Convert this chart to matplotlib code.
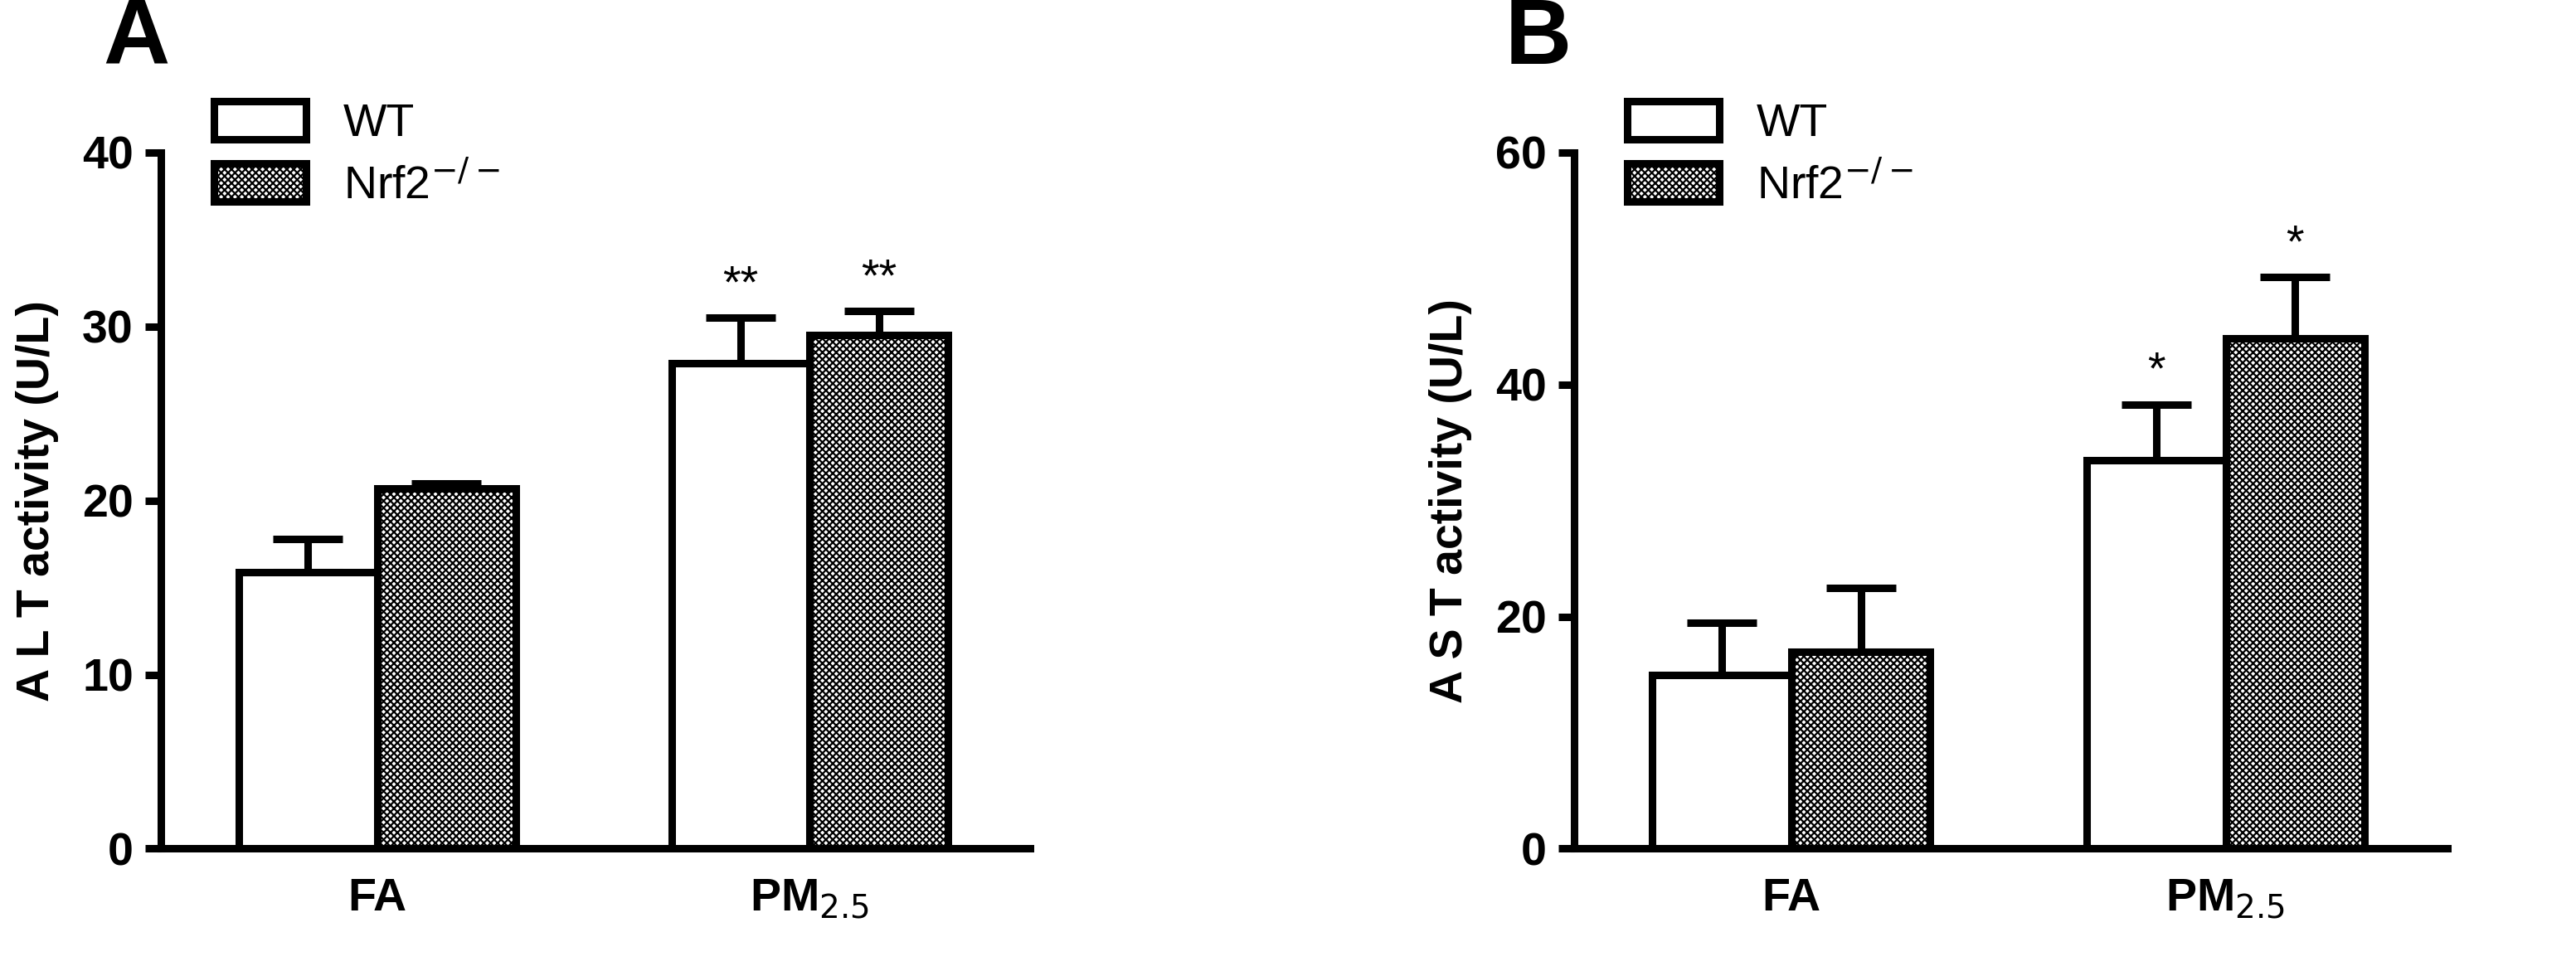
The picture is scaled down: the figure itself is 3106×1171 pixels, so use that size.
import matplotlib
matplotlib.use("Agg")
import matplotlib.pyplot as plt
from matplotlib.patches import Patch

plt.rcParams['font.family'] = ['Liberation Sans', 'DejaVu Sans']
plt.rcParams['hatch.linewidth'] = 1.6
plt.rcParams['hatch.color'] = '#333333'

groups = ['FA', 'PM$_{2.5}$']
series = ['WT', 'Nrf2$^{-/-}$']
alt_mean = {'WT': [15.9, 27.9], 'Nrf2': [20.7, 29.5]}
alt_err = {'WT': [1.9, 2.6], 'Nrf2': [0.3, 1.4]}
alt_sig = {'WT': ['', '**'], 'Nrf2': ['', '**']}
ast_mean = {'WT': [15.0, 33.5], 'Nrf2': [17.0, 44.0]}
ast_err = {'WT': [4.5, 4.8], 'Nrf2': [5.5, 5.3]}
ast_sig = {'WT': ['', '*'], 'Nrf2': ['', '*']}

fig = plt.figure(figsize=(31.06, 11.71), dpi=100)
axA = fig.add_axes([0.0625, 0.126, 0.3375, 0.717])
axB = fig.add_axes([0.611, 0.126, 0.339, 0.717])

LW = 6.5
W = 0.32
HATCH = 'xxxx'

def panel(ax, mean, err, sig, ymax, step, ylabel, letter, lx):
    for k, key in enumerate(['WT', 'Nrf2']):
        xs = [g + (k - 0.5) * W for g in range(len(groups))]
        hatch = None if key == 'WT' else HATCH
        ax.bar(xs, mean[key], width=W, facecolor='white', edgecolor='black',
               linewidth=LW, hatch=hatch, zorder=3)
        ax.errorbar(xs, mean[key], yerr=[[0]*len(xs), err[key]], fmt='none',
                    ecolor='black', elinewidth=LW, capsize=30, capthick=LW, zorder=2)
        for x, m, e, s in zip(xs, mean[key], err[key], sig[key]):
            if s:
                ax.text(x, m + e + ymax*0.015, s, ha='center', va='bottom', fontsize=40)
    ax.set_xlim(-0.5, 1.51)
    ax.set_ylim(0, ymax)
    ax.set_yticks(range(0, ymax + 1, step))
    ax.set_xticks(range(len(groups)))
    ax.set_xticklabels(groups, fontsize=40, fontweight='bold')
    for t in ax.get_yticklabels():
        t.set_fontsize(40); t.set_fontweight('bold')
    ax.tick_params(axis='x', length=0, pad=25)
    ax.tick_params(axis='y', length=14, width=LW, direction='out', pad=10)
    for s in ['top', 'right']:
        ax.spines[s].set_visible(False)
    for s in ['left', 'bottom']:
        ax.spines[s].set_linewidth(LW)
    ax.set_ylabel(ylabel, fontsize=40, fontweight='bold', labelpad=20)
    handles = [Patch(facecolor='white', edgecolor='black', linewidth=LW),
               Patch(facecolor='white', edgecolor='black', linewidth=LW, hatch=HATCH)]
    ax.legend(handles, series, loc='upper left', bbox_to_anchor=(0.04, 1.1),
              frameon=False, fontsize=40, handlelength=2.0, handleheight=0.9,
              labelspacing=0.35, borderaxespad=0)
    fig.text(lx, 0.915, letter, fontsize=80, fontweight='bold', ha='center', va='bottom')

panel(axA, alt_mean, alt_err, alt_sig, 40, 10, 'A L T activity (U/L)', 'A', 0.053)
panel(axB, ast_mean, ast_err, ast_sig, 60, 20, 'A S T activity (U/L)', 'B', 0.597)

fig.savefig('out.png', dpi=100, facecolor='white')
